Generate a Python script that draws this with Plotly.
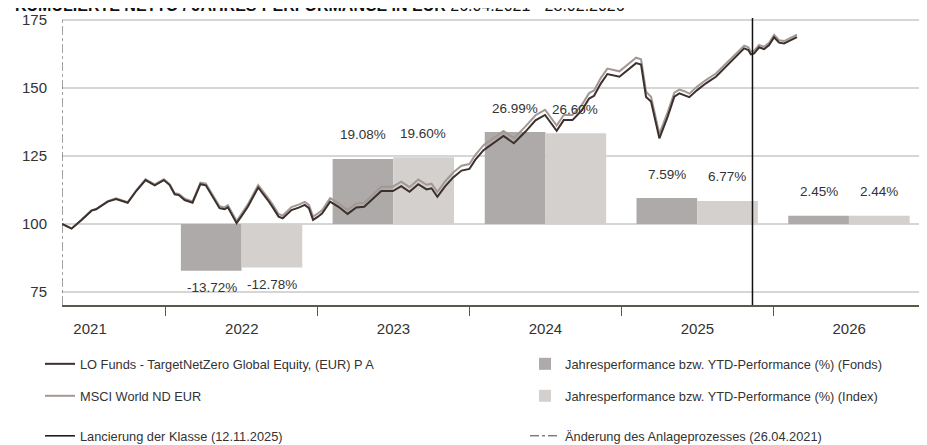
import plotly.graph_objects as go

# ---------------- data ----------------
title_bold = "KUMULIERTE NETTO / JAHRES-PERFORMANCE IN EUR"
title_period = "26.04.2021 - 28.02.2026"

fund_name = "LO Funds - TargetNetZero Global Equity, (EUR) P A"
index_name = "MSCI World ND EUR"
bar_fund_name = "Jahresperformance bzw. YTD-Performance (%) (Fonds)"
bar_index_name = "Jahresperformance bzw. YTD-Performance (%) (Index)"
launch_name = "Lancierung der Klasse (12.11.2025)"
launch_date = "2025-11-12"
change_name = "Änderung des Anlageprozesses (26.04.2021)"
change_date = "2021-04-26"

dates = [
    "2021-04-26", "2021-05-19", "2021-06-12", "2021-07-06", "2021-07-17", "2021-08-14",
    "2021-09-03", "2021-10-01", "2021-10-22", "2021-11-13", "2021-12-05", "2021-12-27",
    "2022-01-10", "2022-01-22", "2022-02-01", "2022-02-15", "2022-03-06", "2022-03-25",
    "2022-04-07", "2022-04-24", "2022-05-10", "2022-05-22", "2022-05-30", "2022-06-07",
    "2022-06-20", "2022-07-01", "2022-07-17", "2022-08-11", "2022-08-22", "2022-09-03",
    "2022-09-15", "2022-09-29", "2022-10-09", "2022-10-30", "2022-11-18", "2022-12-01",
    "2022-12-11", "2022-12-21", "2023-01-01", "2023-01-12", "2023-01-31", "2023-02-20",
    "2023-03-14", "2023-04-04", "2023-04-23", "2023-05-11", "2023-06-03", "2023-07-01",
    "2023-07-21", "2023-08-10", "2023-08-31", "2023-09-20", "2023-10-02", "2023-10-16",
    "2023-11-03", "2023-11-23", "2023-12-13", "2024-01-01", "2024-01-15", "2024-02-04",
    "2024-02-28", "2024-03-23", "2024-04-17", "2024-05-15", "2024-06-08", "2024-07-01",
    "2024-07-29", "2024-08-15", "2024-09-05", "2024-09-28", "2024-10-15", "2024-10-27",
    "2024-11-12", "2024-11-28", "2024-12-27", "2025-01-16", "2025-02-05", "2025-02-17",
    "2025-03-01", "2025-03-13", "2025-04-02", "2025-04-22", "2025-05-08", "2025-05-20",
    "2025-06-01", "2025-06-13", "2025-07-02", "2025-07-23", "2025-08-16", "2025-09-05",
    "2025-09-25", "2025-10-11", "2025-10-23", "2025-11-02", "2025-11-08", "2025-11-16",
    "2025-11-28", "2025-12-10", "2025-12-22", "2026-01-03", "2026-01-15", "2026-01-27",
    "2026-02-08", "2026-02-27",
]

fund_values = [
    100.0, 98.3, 101.5, 104.9, 105.4, 108.2,
    109.2, 107.8, 112.2, 116.1, 114.2, 116.1,
    114.3, 110.9, 110.6, 108.8, 107.8, 114.6,
    114.2, 110.0, 105.8, 105.4, 106.1, 103.9,
    100.3, 102.7, 106.3, 113.4, 111.3, 108.8,
    106.1, 102.7, 102.1, 105.1, 106.1, 107.0,
    105.8, 101.5, 102.6, 103.9, 108.2, 106.3,
    103.7, 106.1, 106.3, 108.8, 112.1, 112.1,
    113.9, 111.8, 114.6, 112.7, 113.1, 110.0,
    113.7, 117.1, 119.6, 120.2, 123.5, 127.1,
    129.6, 132.3, 129.6, 133.9, 138.0, 140.0,
    134.2, 138.1, 138.1, 141.8, 146.0, 147.0,
    151.5, 155.0, 154.0, 156.5, 159.0, 158.5,
    146.6, 144.9, 131.4, 139.4, 146.7, 147.9,
    147.3, 146.5, 149.1, 151.6, 154.0, 157.1,
    160.1, 162.6, 164.4, 163.8, 162.2, 162.6,
    164.8, 164.1, 165.6, 168.5, 166.5, 166.2,
    167.2, 168.5,
]

index_values = [
    100.0, 98.4, 101.6, 105.0, 105.5, 108.4,
    109.4, 108.0, 112.4, 116.4, 114.5, 116.4,
    114.6, 111.3, 111.0, 109.3, 108.3, 115.2,
    114.8, 110.7, 106.5, 106.1, 106.9, 104.7,
    101.1, 103.6, 107.2, 114.3, 112.2, 109.7,
    107.1, 103.7, 103.1, 106.2, 107.2, 108.1,
    107.0, 102.7, 103.8, 105.1, 109.5, 107.6,
    105.1, 107.5, 107.8, 110.3, 113.7, 113.7,
    115.5, 113.5, 116.3, 114.4, 114.8, 111.7,
    115.5, 118.9, 121.4, 122.0, 125.3, 128.9,
    131.4, 134.1, 131.5, 135.8, 139.9, 141.9,
    136.1, 140.0, 140.0, 143.8, 148.0, 149.0,
    153.5, 157.0, 156.0, 158.5, 161.0, 160.4,
    148.5, 146.7, 133.1, 141.0, 148.2, 149.3,
    148.7, 147.8, 150.4, 152.8, 155.2, 158.2,
    161.2, 163.6, 165.4, 164.8, 163.2, 163.6,
    165.7, 165.0, 166.5, 169.4, 167.4, 167.1,
    168.1, 169.4,
]

years = ["2022", "2023", "2024", "2025", "2026"]
perf_fund = [-13.72, 19.08, 26.99, 7.59, 2.45]
perf_index = [-12.78, 19.60, 26.60, 6.77, 2.44]

y_ticks = [75, 100, 125, 150, 175]

# ---------------- styling ----------------
FONT = "Liberation Sans, Arial, sans-serif"
C_FUND = "#3a302d"
C_INDEX = "#a39894"
C_BAR_FUND = "#aeaaa9"
C_BAR_INDEX = "#d4d0cd"
C_AXIS = "#5a5a48"
C_TEXT = "#333333"

bar_x = [f"{y}-07-02" for y in years]

fig = go.Figure()

fig.add_trace(go.Bar(
    x=bar_x, y=perf_fund, name=bar_fund_name, marker=dict(color=C_BAR_FUND, line=dict(width=0)),
    yaxis="y", legend="legend2", hoverinfo="skip",
))
fig.add_trace(go.Bar(
    x=bar_x, y=perf_index, name=bar_index_name, marker=dict(color=C_BAR_INDEX, line=dict(width=0)),
    yaxis="y", legend="legend4", hoverinfo="skip",
))
fig.add_trace(go.Scatter(
    x=dates, y=index_values, name=index_name, mode="lines",
    line=dict(color=C_INDEX, width=2), yaxis="y2", legend="legend3",
))
fig.add_trace(go.Scatter(
    x=dates, y=fund_values, name=fund_name, mode="lines",
    line=dict(color=C_FUND, width=2), yaxis="y2", legend="legend",
))

# bar value labels
for xs, vals, shift in ((bar_x, perf_fund, -30), (bar_x, perf_index, 30)):
    for x, v in zip(xs, vals):
        fig.add_annotation(
            x=x, y=v, xref="x", yref="y", text=f"{v:.2f}%", showarrow=False,
            xshift=shift, yshift=24 if v >= 0 else -17, yanchor="middle",
            font=dict(family=FONT, size=13.5, color=C_TEXT),
        )

# title (only its lower part shows at the top edge, as in the original)
fig.add_annotation(
    x=-0.0568, y=1.007, xref="paper", yref="paper", xanchor="left", yanchor="bottom",
    text=f"<b>{title_bold}</b> {title_period}", showarrow=False,
    font=dict(family=FONT, size=16, color="#111111"),
)

# vertical marker lines (shown in legend)
fig.add_shape(
    type="line", xref="x", yref="paper", x0=launch_date, x1=launch_date, y0=0, y1=1,
    line=dict(color="#111111", width=1.5), showlegend=True, name=launch_name, legend="legend5",
)
fig.add_shape(
    type="line", xref="x", yref="paper", x0=change_date, x1=change_date, y0=0, y1=1,
    line=dict(color="#444444", width=1, dash="dashdot"), showlegend=True, name=change_name,
    legend="legend6",
)

def leg(x, y):
    return dict(
        x=x, y=y, xref="paper", yref="paper", xanchor="left", yanchor="middle",
        orientation="v", bgcolor="rgba(0,0,0,0)", borderwidth=0,
        font=dict(family=FONT, size=12.8, color=C_TEXT), itemclick=False, itemdoubleclick=False,
    )

LX1, LX2 = -0.0255, 0.5365
R1, R2, R3 = -0.2056, -0.317, -0.4564

fig.update_layout(
    width=927, height=445,
    margin=dict(l=54, r=10, t=10, b=148, autoexpand=False),
    paper_bgcolor="white", plot_bgcolor="white",
    showlegend=True,
    barmode="group", bargap=0.2, bargroupgap=0,
    font=dict(family=FONT, color=C_TEXT),
    xaxis=dict(
        type="date", range=["2021-04-26", "2027-01-01"],
        tick0="2021-01-01", dtick="M12", tickformat="%Y", ticklabelmode="period",
        ticks="outside", ticklen=9, tickwidth=1, tickcolor=C_AXIS,
        showline=True, linecolor=C_AXIS, linewidth=2, showgrid=False, zeroline=False,
        tickfont=dict(family=FONT, size=15, color=C_TEXT), automargin=False,
    ),
    yaxis=dict(range=[-23.77, 60.44], visible=False, fixedrange=True),
    yaxis2=dict(
        overlaying="y", side="left", range=[70.3, 175.55], tickvals=y_ticks,
        showgrid=True, gridcolor="#d6d6d6", gridwidth=1.5, zeroline=False, showline=False,
        ticks="", ticklabelstandoff=14, automargin=False,
        tickfont=dict(family=FONT, size=15, color=C_TEXT),
    ),
    legend=leg(LX1, R1),
    legend2=leg(LX2, R1),
    legend3=leg(LX1, R2),
    legend4=leg(LX2, R2),
    legend5=leg(LX1, R3),
    legend6=leg(LX2, R3),
)

fig.write_html("out.html")
